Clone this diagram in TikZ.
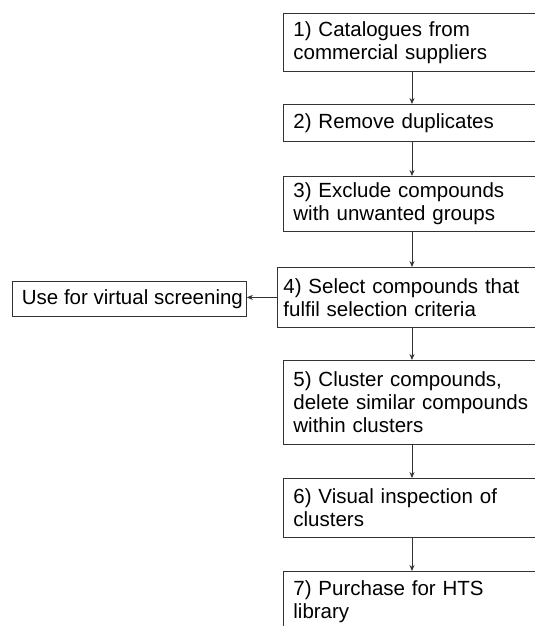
\documentclass[tikz,border=0pt]{standalone}
\usepackage{fontspec}
\setmainfont{Liberation Sans}
\usetikzlibrary{arrows.meta}
\begin{document}
\begin{tikzpicture}[x=1pt,y=1pt,
  boxline/.style={draw=black!80, line width=0.8pt, rectangle,
    font=\fontsize{20.5}{23}\selectfont},
  stepbox/.style={boxline, anchor=north west,
    inner xsep=10pt, inner ysep=0pt, align=left, text width=250pt},
  arr/.style={draw=black!80, line width=0.8pt, -{Stealth[length=6pt,width=5pt]}}]
\useasboundingbox (0,0) rectangle (535,-626);
\clip (0,0) rectangle (535,-626);
\node[stepbox, minimum height=58pt] (b1) at (283,-13) {1) Catalogues from\\commercial suppliers};
\node[stepbox, minimum height=37pt] (b2) at (283,-104) {2) Remove duplicates};
\node[stepbox, minimum height=55pt] (b3) at (283,-176) {3) Exclude compounds\\with unwanted groups};
\node[stepbox, minimum height=60pt, inner xsep=6pt, text width=264pt] (b4) at (277,-267) {4) Select compounds that\\fulfil selection criteria};
\node[stepbox, minimum height=84pt] (b5) at (283,-360) {5) Cluster compounds,\\delete similar compounds\\within clusters};
\node[stepbox, minimum height=59pt] (b6) at (283,-478) {6) Visual inspection of\\clusters};
\node[stepbox, minimum height=80pt] (b7) at (283,-571) {\vphantom{Ay}\\[-22pt]7) Purchase for HTS\\library\\\vphantom{A}};
\node[boxline, anchor=north west, minimum width=234pt, minimum height=35pt, inner sep=0pt] (vs) at (12,-281) {\hspace{6pt}Use for virtual screening};
\coordinate (ax) at (412,0);
\draw[arr] (b1.south -| ax) -- (b2.north -| ax);
\draw[arr] (b2.south -| ax) -- (b3.north -| ax);
\draw[arr] (b3.south -| ax) -- (b4.north -| ax);
\draw[arr] (b4.south -| ax) -- (b5.north -| ax);
\draw[arr] (b5.south -| ax) -- (b6.north -| ax);
\draw[arr] (b6.south -| ax) -- (b7.north -| ax);
\draw[arr] (b4.west) -- (b4.west -| vs.east);
\end{tikzpicture}
\end{document}
